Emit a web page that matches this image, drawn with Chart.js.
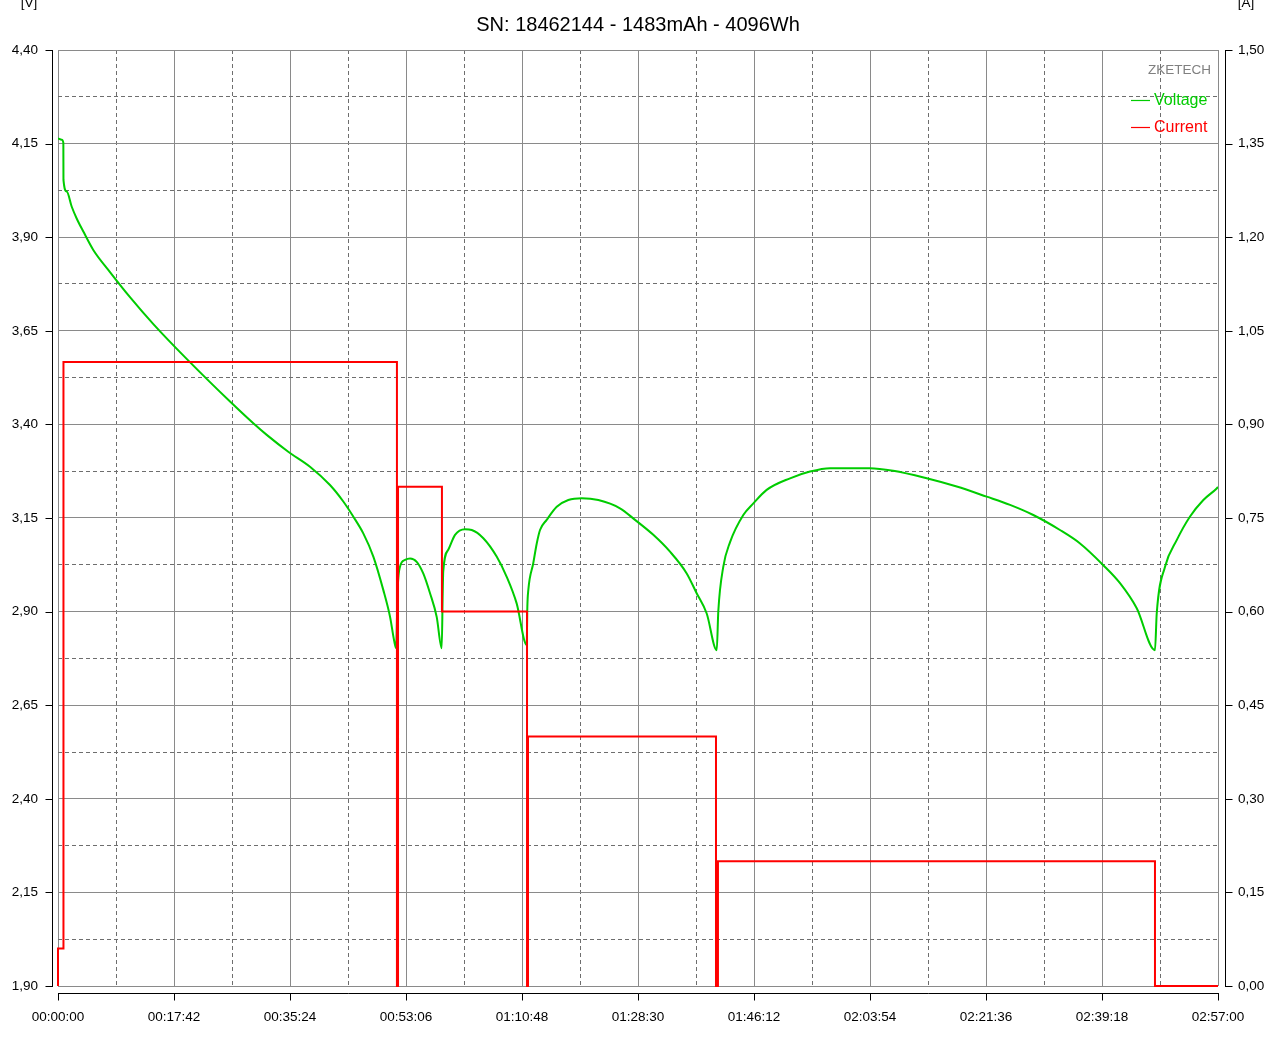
<!DOCTYPE html>
<html><head><meta charset="utf-8">
<script src="https://cdn.jsdelivr.net/npm/chart.js@4.4.0/dist/chart.umd.min.js"></script>
<style>html,body{margin:0;padding:0;background:#fff;overflow:hidden}#wrap{width:1280px;height:1043px;position:relative}</style>
</head><body><div id="wrap"><canvas id="c"></canvas></div>
<script>
const chartTitle = 'SN: 18462144 - 1483mAh - 4096Wh';
const leftUnit = '[V]';
const rightUnit = '[A]';
const brandLabel = 'ZKETECH';
const seriesNames = ['Voltage', 'Current'];
const seriesColors = ['#00cc00', '#ff0000'];

// time in seconds
const voltTimes = [0,34,49,50,80,125,171,232,323,476,659,873,1178,1575,1788,1911,2108,2307,2490,2612,2703,2795,2887,2978,3040,3079,3095,
  3110,3131,3177,3223,3284,3344,3406,3467,3513,
  3522,3527,3573,3635,3726,3788,3894,4016,4108,4199,4291,
  4297,4306,4351,4383,4413,4474,4566,4672,4795,4947,5145,5283,5450,5603,5756,5847,5939,6031,
  6045,6091,6152,6274,6366,6488,6702,6885,7068,7434,7647,7953,8228,8502,8716,8929,9173,9357,9570,9723,9876,10043,
  10059,10135,10242,10364,10486,10608,10620];
const voltValues = [4.164,4.160,4.152,4.053,4.022,3.982,3.950,3.915,3.866,3.807,3.740,3.668,3.575,3.461,3.403,3.372,3.327,3.287,3.238,3.194,3.154,3.109,3.047,2.958,2.886,2.820,2.803,
  2.962,3.020,3.038,3.042,3.033,3.002,2.949,2.886,2.802,
  2.949,3.007,3.065,3.105,3.120,3.118,3.096,3.047,2.993,2.922,2.811,
  2.913,2.958,3.029,3.082,3.118,3.145,3.180,3.198,3.203,3.198,3.176,3.145,3.105,3.060,3.002,2.949,2.895,2.797,
  2.900,3.020,3.085,3.158,3.189,3.225,3.256,3.274,3.283,3.283,3.276,3.256,3.234,3.207,3.185,3.158,3.118,3.082,3.024,2.976,2.909,2.797,
  2.895,3.020,3.091,3.154,3.198,3.229,3.233];

const currTimes = [0,0,50,50,3103,3103,3113,3113,3515,3515,4294,4294,4303,4303,6024,6024,6042,6042,10043,10043,10620];
const currValues = [0,0.06,0.06,1.00,1.00,0,0,0.80,0.80,0.60,0.60,0,0,0.40,0.40,0,0,0.20,0.20,0,0];

const xMin = 0, xMax = 10620, xStep = 531;      // labels every 2 steps (17:42)
const vMin = 1.90, vMax = 4.40, vStep = 0.125;  // labels every 2 steps (0.25)
const aMin = 0, aMax = 1.50, aStep = 0.15;

function fmtTime(s){
  s = Math.round(s);
  const h = Math.floor(s/3600), m = Math.floor((s%3600)/60), sec = s%60;
  const p = n => String(n).padStart(2,'0');
  return p(h)+':'+p(m)+':'+p(sec);
}
const fmtNum = v => v.toFixed(2).replace('.', ',');

const FONT = "'Liberation Sans', Arial, sans-serif";
Chart.defaults.font.family = FONT;
Chart.defaults.font.size = 13.5;
Chart.defaults.color = '#000';

const solidGrid = '#8a8a8a';
const dashGrid = '#6e6e6e';

const decor = {
  id: 'decor',
  afterDraw(chart){
    const {ctx, chartArea: a, scales} = chart;
    ctx.save();
    ctx.strokeStyle = '#000';
    ctx.lineWidth = 1;
    const lx = Math.round(a.left) - 6 + 0.5;
    const rx = Math.round(a.right) + 7 + 0.5;
    const by = Math.round(a.bottom) + 7 + 0.5;
    ctx.beginPath();
    ctx.moveTo(lx, a.top); ctx.lineTo(lx, a.bottom + 1);
    scales.y.ticks.forEach((t,i) => { if (i%2) return; const py = Math.round(scales.y.getPixelForValue(t.value)) + 0.5; ctx.moveTo(lx-7, py); ctx.lineTo(lx, py); });
    ctx.moveTo(rx, a.top); ctx.lineTo(rx, a.bottom + 1);
    scales.y2.ticks.forEach(t => { const py = Math.round(scales.y2.getPixelForValue(t.value)) + 0.5; ctx.moveTo(rx, py); ctx.lineTo(rx+7, py); });
    ctx.moveTo(a.left, by); ctx.lineTo(a.right + 1, by);
    scales.x.ticks.forEach((t,i) => { if (i%2) return; const px = Math.round(scales.x.getPixelForValue(t.value)) + 0.5; ctx.moveTo(px, by); ctx.lineTo(px, by+7); });
    ctx.stroke();

    ctx.fillStyle = '#000';
    ctx.textBaseline = 'middle';
    ctx.textAlign = 'center';
    ctx.font = '20px ' + FONT;
    ctx.fillText(chartTitle, 638, 25);
    ctx.font = '13.5px ' + FONT;
    ctx.fillText(leftUnit, 29, 3);
    ctx.fillText(rightUnit, 1246, 3);

    // legend inside plot
    ctx.textAlign = 'right';
    ctx.fillStyle = '#808080';
    ctx.fillText(brandLabel, a.right - 7, 70);
    ctx.textAlign = 'left';
    ctx.font = '16px ' + FONT;
    [100, 127].forEach((yy, i) => {
      ctx.strokeStyle = seriesColors[i];
      ctx.lineWidth = 1.2;
      ctx.beginPath(); ctx.moveTo(a.right - 87, yy + 0.5); ctx.lineTo(a.right - 68, yy + 0.5); ctx.stroke();
      ctx.fillStyle = seriesColors[i];
      ctx.fillText(seriesNames[i], a.right - 64, yy + 1);
    });
    ctx.restore();
  }
};

new Chart(document.getElementById('c'), {
  type: 'line',
  data: {
    datasets: [
      { label: seriesNames[1], yAxisID: 'y2', data: currTimes.map((t,i) => ({x: t, y: currValues[i]})),
        borderColor: seriesColors[1], borderWidth: 2, pointRadius: 0, tension: 0, fill: false, clip: 3 },
      { label: seriesNames[0], yAxisID: 'y', data: voltTimes.map((t,i) => ({x: t, y: voltValues[i]})),
        borderColor: seriesColors[0], borderWidth: 2, pointRadius: 0, cubicInterpolationMode: 'monotone', fill: false }
    ]
  },
  options: {
    responsive: true, maintainAspectRatio: false, animation: false,
    layout: { padding: { top: 50, left: 0, right: 0, bottom: 0 } },
    plugins: { legend: { display: false }, title: { display: false }, tooltip: { enabled: false } },
    scales: {
      x: {
        type: 'linear', min: xMin, max: xMax,
        afterFit(s){ s.height = 57; },
        ticks: { stepSize: xStep, autoSkip: false, maxRotation: 0, maxTicksLimit: 100, padding: 23,
          callback: (v, i) => (i % 2 ? '' : fmtTime(v)) },
        grid: { drawTicks: false, lineWidth: 1, color: c => (c.index % 2 ? dashGrid : solidGrid) },
        border: { display: false, dash: c => (c.index % 2 ? [4,3] : []) }
      },
      y: {
        type: 'linear', position: 'left', min: vMin, max: vMax,
        afterFit(s){ s.width = 58; },
        ticks: { stepSize: vStep, autoSkip: false, maxTicksLimit: 100, padding: 20,
          callback: (v, i) => (i % 2 ? '' : fmtNum(v)) },
        grid: { drawTicks: false, lineWidth: 1, color: c => (c.index % 2 ? dashGrid : solidGrid) },
        border: { display: false, dash: c => (c.index % 2 ? [4,3] : []) }
      },
      y2: {
        type: 'linear', position: 'right', min: aMin, max: aMax,
        afterFit(s){ s.width = 62; },
        ticks: { stepSize: aStep, autoSkip: false, maxTicksLimit: 100, padding: 20,
          callback: v => fmtNum(v) },
        grid: { drawOnChartArea: false, drawTicks: false },
        border: { display: false }
      }
    }
  },
  plugins: [decor]
});
</script>
</body></html>
